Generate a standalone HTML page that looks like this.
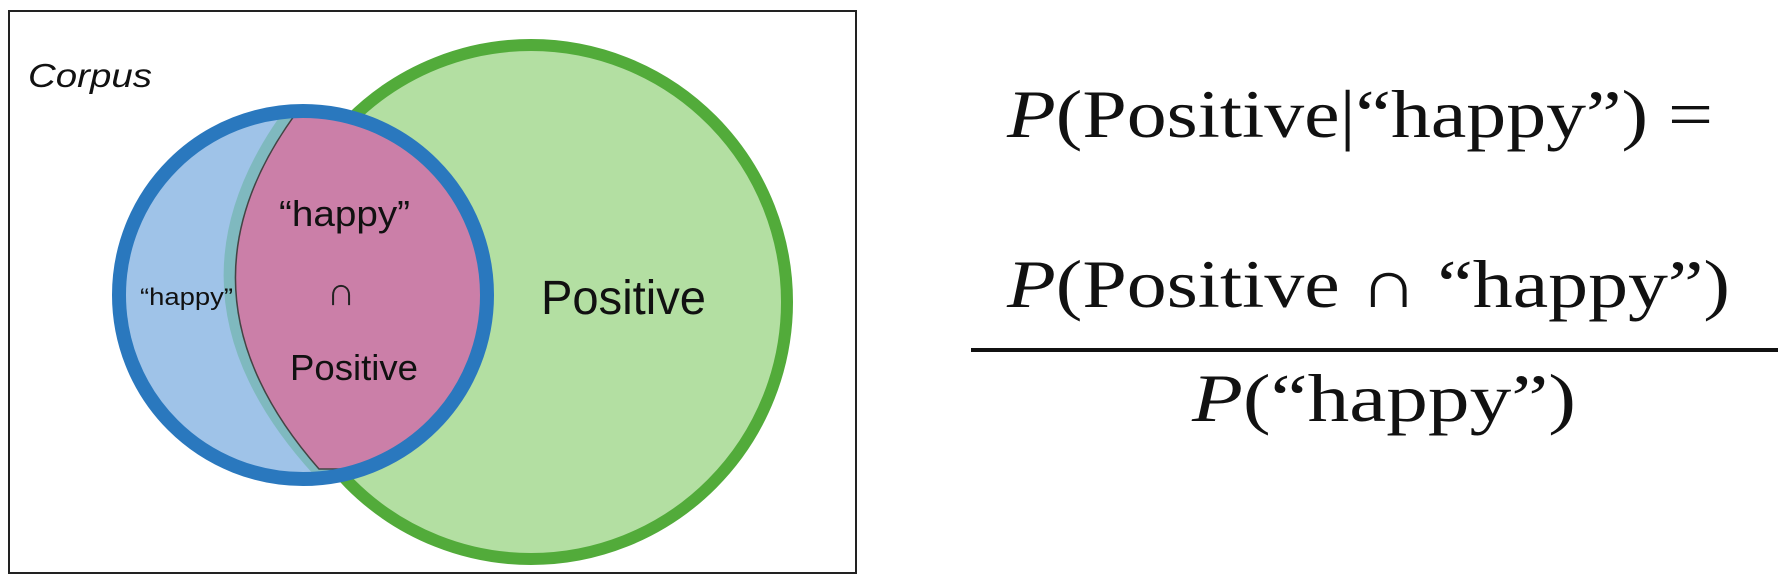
<!DOCTYPE html>
<html><head><meta charset="utf-8"><style>
html,body{margin:0;padding:0;background:#fff;}
svg{display:block}
</style></head><body>
<svg width="1785" height="583" viewBox="0 0 1785 583" xmlns="http://www.w3.org/2000/svg">
<defs>
<clipPath id="blueClip"><circle cx="303" cy="295" r="184"/></clipPath>
</defs>
<rect x="9" y="11" width="847" height="562" fill="#fff" stroke="#222" stroke-width="2"/>
<text x="28" y="87" font-family="Liberation Sans, sans-serif" font-style="italic" font-size="33" fill="#111" textLength="124" lengthAdjust="spacingAndGlyphs">Corpus</text>
<ellipse cx="531" cy="302" rx="256" ry="257" fill="#b3dfa2" stroke="#52ab3a" stroke-width="12"/>
<circle cx="303" cy="295" r="184" fill="#9fc3e8"/>
<g clip-path="url(#blueClip)">
<path d="M292,100 Q145,290 314,475 L620,475 L620,100 Z" fill="#7fb9bf"/>
<path d="M300,108 Q162,290 319,469 L620,469 L620,108 Z" fill="#cb7fa8" stroke="#444" stroke-width="1.5"/>
</g>
<circle cx="303" cy="295" r="184" fill="none" stroke="#2a78be" stroke-width="14"/>
<text x="279" y="226" font-family="Liberation Sans, sans-serif" font-size="36" fill="#111" textLength="131" lengthAdjust="spacingAndGlyphs">“happy”</text>
<text x="140" y="305" font-family="Liberation Sans, sans-serif" font-size="24" fill="#111" textLength="93" lengthAdjust="spacingAndGlyphs">“happy”</text>
<text x="341" y="305" font-family="Liberation Sans, sans-serif" font-size="40" fill="#222" text-anchor="middle">∩</text>
<text x="290" y="380" font-family="Liberation Sans, sans-serif" font-size="36" fill="#111" textLength="128" lengthAdjust="spacingAndGlyphs">Positive</text>
<text x="541" y="314" font-family="Liberation Sans, sans-serif" font-size="48" fill="#111" textLength="165" lengthAdjust="spacingAndGlyphs">Positive</text>

<g font-family="Liberation Serif, serif" font-size="68" fill="#111">
<text x="1007" y="137" textLength="706" lengthAdjust="spacingAndGlyphs"><tspan font-style="italic">P</tspan>(Positive|“happy”) =</text>
<text x="1007" y="307" textLength="723" lengthAdjust="spacingAndGlyphs"><tspan font-style="italic">P</tspan>(Positive ∩ “happy”)</text>
<rect x="971" y="348" width="807" height="4" fill="#111"/>
<text x="1192" y="421" textLength="384" lengthAdjust="spacingAndGlyphs"><tspan font-style="italic">P</tspan>(“happy”)</text>
</g>
</svg>
</body></html>
